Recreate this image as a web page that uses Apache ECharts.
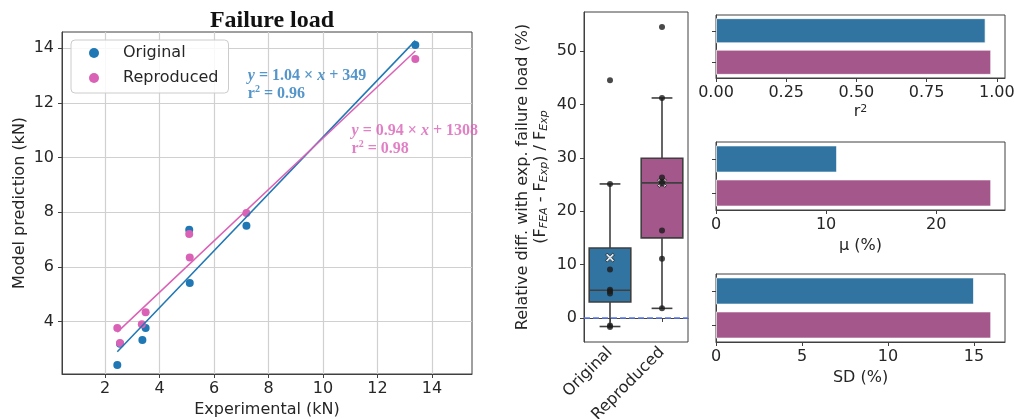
<!DOCTYPE html>
<html><head><meta charset="utf-8">
<script src="https://cdn.jsdelivr.net/npm/echarts@6/dist/echarts.min.js"></script>
<style>html,body{margin:0;padding:0;background:#fff}#c{width:1014px;height:419px}</style>
</head><body><div id="c"></div>
<script>
// ---------------- data ----------------
const categories = ['Original', 'Reproduced'];
// Failure load scatter (kN)
const expOriginal    = [2.45, 2.55, 3.37, 3.49, 5.09, 5.11, 7.19, 13.39];
const predOriginal   = [2.41, 3.19, 3.32, 3.76, 7.36, 5.41, 7.50, 14.11];
const expReproduced  = [2.45, 2.55, 3.35, 3.49, 5.09, 5.11, 7.19, 13.39];
const predReproduced = [3.76, 3.21, 3.90, 4.34, 7.20, 6.34, 7.97, 13.60];
// linear fits (slope, intercept in kN) and r²
const fitSlope = [1.04, 0.94];
const fitIntercept = [0.349, 1.308];
const r2Text = ['0.96', '0.98'];
// relative difference (%) box plot
const diffOriginal   = [44.5, 25.1, 9.1, 5.3, 5.0, 4.6, -1.4, -1.7];
const diffReproduced = [54.5, 41.2, 26.3, 25.5, 25.2, 16.4, 11.1, 1.8];
const whiskerLow  = [-1.6, 1.8];
const boxQ1       = [3.0, 15.0];
const boxMedian   = [5.2, 25.3];
const boxQ3       = [13.1, 29.9];
const whiskerHigh = [25.1, 41.2];
const meanDiff    = [11.3, 25.3];
// summary metrics
const r2Values = [0.96, 0.98];
const muValues = [11.0, 25.0];
const sdValues = [15.0, 16.0];
// tick labels
const scatterXTicks = [2, 4, 6, 8, 10, 12, 14];
const scatterYTicks = [4, 6, 8, 10, 12, 14];
const diffTicks = [0, 10, 20, 30, 40, 50];
const r2Ticks = [0, 0.25, 0.5, 0.75, 1.0];
const muTicks = [0, 10, 20];
const sdTicks = [0, 5, 10, 15];

// ---------------- style ----------------
const FONT = 'DejaVu Sans';
const SERIF = 'Liberation Serif';
const TXT = '#262626';
const SPINE = '#404040';
const BLUE_PT = '#1f77b4';
const PINK_PT = '#d962b6';
const BLUE_TXT = '#2b7cbd';
const BLUE_BOX = '#3274a1';
const PURPLE_BOX = '#a4578b';
const boxColors = [BLUE_BOX, PURPLE_BOX];

const zip = (a, b) => a.map((v, i) => [v, b[i]]);
const fitLine = (k) => {
  const xs = k === 0 ? expOriginal : expReproduced;
  const x0 = Math.min(...xs), x1 = Math.max(...xs);
  return [[x0, fitSlope[k] * x0 + fitIntercept[k]], [x1, fitSlope[k] * x1 + fitIntercept[k]]];
};

const tickLabel = { fontFamily: FONT, fontSize: 16, color: TXT };
function valueAxis(gridIndex, min, max, ticks, extra) {
  return Object.assign({
    type: 'value', gridIndex, min, max,
    axisLine: { show: true, lineStyle: { color: SPINE, width: 1 } },
    axisTick: { show: true, length: 4, customValues: ticks, lineStyle: { color: SPINE } },
    axisLabel: Object.assign({ customValues: ticks, margin: 7 }, tickLabel),
    splitLine: { show: false },
    nameTextStyle: { fontFamily: FONT, fontSize: 16, color: TXT }
  }, extra || {});
}
function catBarAxis(gridIndex) {
  return {
    type: 'category', gridIndex, data: categories, inverse: true,
    axisLine: { show: true, lineStyle: { color: SPINE } },
    axisTick: { show: true, alignWithLabel: true, length: 4, lineStyle: { color: SPINE } },
    axisLabel: { show: false }, splitLine: { show: false }
  };
}
const gridBase = { show: true, borderColor: SPINE, borderWidth: 1, backgroundColor: 'transparent',
  containLabel: false, outerBoundsMode: 'none' };

const boxRows = categories.map((c, i) => [i, whiskerLow[i], boxQ1[i], boxMedian[i], boxQ3[i], whiskerHigh[i]]);
const stripData = [].concat(diffOriginal.map(v => [0, v]), diffReproduced.map(v => [1, v]));

function eqRich(color) {
  return {
    b: { fontFamily: SERIF, fontWeight: 'bold', fontSize: 16, color, lineHeight: 18 },
    i: { fontFamily: SERIF, fontWeight: 'bold', fontStyle: 'italic', fontSize: 16, color, lineHeight: 18 },
    s: { fontFamily: SERIF, fontWeight: 'bold', fontSize: 10, color, lineHeight: 18, verticalAlign: 'top' }
  };
}

const option = {
  animation: false,
  backgroundColor: '#ffffff',
  title: {
    text: 'Failure load', left: 267, top: 4, textAlign: 'center',
    textStyle: { fontFamily: SERIF, fontWeight: 'bold', fontSize: 24, color: '#111' }
  },
  legend: {
    data: ['Original', 'Reproduced'], orient: 'vertical', left: 71, top: 40,
    padding: [4, 10, 6, 18], itemGap: 7, itemWidth: 10, itemHeight: 10,
    icon: 'circle', borderColor: '#cccccc', borderWidth: 1, borderRadius: 4,
    backgroundColor: 'rgba(255,255,255,0.85)',
    textStyle: { fontFamily: FONT, fontSize: 16, color: TXT, lineHeight: 18, padding: [0, 0, 0, 19] }
  },
  grid: [
    Object.assign({ left: 62, top: 32, width: 410, height: 342 }, gridBase),
    Object.assign({ left: 584, top: 12, width: 104, height: 330 }, gridBase),
    Object.assign({ left: 716, top: 15, width: 289, height: 63 }, gridBase),
    Object.assign({ left: 716, top: 142, width: 289, height: 68 }, gridBase),
    Object.assign({ left: 716, top: 274, width: 289, height: 68 }, gridBase)
  ],
  xAxis: [
    valueAxis(0, 0.42, 15.47, scatterXTicks, {
      name: 'Experimental (kN)', nameLocation: 'middle', nameGap: 26,
      splitLine: { show: true, lineStyle: { color: '#d0d0d0', width: 1.2 } }
    }),
    {
      type: 'category', gridIndex: 1, data: categories,
      axisLine: { show: true, lineStyle: { color: SPINE } },
      axisTick: { show: true, alignWithLabel: true, length: 4, lineStyle: { color: SPINE } },
      axisLabel: Object.assign({ rotate: 45, margin: 8, interval: 0 }, tickLabel),
      splitLine: { show: false }
    },
    valueAxis(2, 0, 1.029, r2Ticks, {
      name: 'r{sup|2}', nameLocation: 'middle', nameGap: 26,
      axisLabel: Object.assign({ customValues: r2Ticks, margin: 7, formatter: v => Number(v).toFixed(2) }, tickLabel),
      nameTextStyle: { fontFamily: FONT, fontSize: 16, color: TXT,
        rich: { sup: { fontFamily: FONT, fontSize: 11, color: TXT, verticalAlign: 'top', lineHeight: 14 } } }
    }),
    valueAxis(3, 0, 26.25, muTicks, { name: 'μ (%)', nameLocation: 'middle', nameGap: 28 }),
    valueAxis(4, 0, 16.8, sdTicks, { name: 'SD (%)', nameLocation: 'middle', nameGap: 28 })
  ],
  yAxis: [
    valueAxis(0, 2.08, 14.59, scatterYTicks, {
      name: 'Model prediction (kN)', nameLocation: 'middle', nameGap: 34,
      axisLabel: Object.assign({ customValues: scatterYTicks, margin: 8 }, tickLabel),
      splitLine: { show: true, lineStyle: { color: '#d0d0d0', width: 1.2 } }
    }),
    valueAxis(1, -4.5, 57.3, diffTicks, {
      name: 'Relative diff. with exp. failure load (%)\n(F{sub|FEA} - F{sub|Exp}) / F{sub|Exp}',
      nameLocation: 'middle', nameGap: 34,
      nameTextStyle: { fontFamily: FONT, fontSize: 16, color: TXT, lineHeight: 18, align: 'center',
        rich: { sub: { fontFamily: FONT, fontSize: 11, fontStyle: 'italic', color: TXT, verticalAlign: 'bottom', lineHeight: 10 } } }
    }),
    catBarAxis(2), catBarAxis(3), catBarAxis(4)
  ],
  series: [
    { name: 'Original', type: 'scatter', xAxisIndex: 0, yAxisIndex: 0, data: zip(expOriginal, predOriginal),
      symbolSize: 8, itemStyle: { color: BLUE_PT, opacity: 1 }, z: 4 },
    { name: 'Reproduced', type: 'scatter', xAxisIndex: 0, yAxisIndex: 0, data: zip(expReproduced, predReproduced),
      symbolSize: 8, itemStyle: { color: PINK_PT, opacity: 1 }, z: 5 },
    { name: 'fitO', type: 'line', xAxisIndex: 0, yAxisIndex: 0, data: fitLine(0), showSymbol: false,
      lineStyle: { color: BLUE_PT, width: 1.5 }, itemStyle: { color: BLUE_PT }, z: 6 },
    { name: 'fitR', type: 'line', xAxisIndex: 0, yAxisIndex: 0, data: fitLine(1), showSymbol: false,
      lineStyle: { color: PINK_PT, width: 1.5 }, itemStyle: { color: PINK_PT }, z: 6 },
    { name: 'eqO', type: 'scatter', xAxisIndex: 0, yAxisIndex: 0, data: [[7.24, 12.67]], symbolSize: 0, silent: true, z: 7,
      label: { show: true, position: [0, 0], align: 'left', verticalAlign: 'middle',
        formatter: '{i|y}{b| = ' + fitSlope[0].toFixed(2) + ' × }{i|x}{b| + 349}\n{b|r}{s|2}{b| = ' + r2Text[0] + '}',
        rich: eqRich(BLUE_TXT) } },
    { name: 'eqR', type: 'scatter', xAxisIndex: 0, yAxisIndex: 0, data: [[11.05, 10.66]], symbolSize: 0, silent: true, z: 7,
      label: { show: true, position: [0, 0], align: 'left', verticalAlign: 'middle',
        formatter: '{i|y}{b| = ' + fitSlope[1].toFixed(2) + ' × }{i|x}{b| + 1308}\n{b|r}{s|2}{b| = ' + r2Text[1] + '}',
        rich: eqRich(PINK_PT) } },
    { name: 'box', type: 'custom', xAxisIndex: 1, yAxisIndex: 1, data: boxRows, z: 2,
      renderItem: function (params, api) {
        const i = api.value(0);
        const pLow = api.coord([i, api.value(1)]);
        const pQ1 = api.coord([i, api.value(2)]);
        const pMed = api.coord([i, api.value(3)]);
        const pQ3 = api.coord([i, api.value(4)]);
        const pHigh = api.coord([i, api.value(5)]);
        const bw = api.size([1, 0])[0] * 0.8;
        const cx = pMed[0];
        const ls = { stroke: '#3f3f3f', lineWidth: 1.6 };
        return { type: 'group', children: [
          { type: 'line', shape: { x1: cx, y1: pQ3[1], x2: cx, y2: pHigh[1] }, style: ls },
          { type: 'line', shape: { x1: cx, y1: pQ1[1], x2: cx, y2: pLow[1] }, style: ls },
          { type: 'line', shape: { x1: cx - bw / 4, y1: pHigh[1], x2: cx + bw / 4, y2: pHigh[1] }, style: ls },
          { type: 'line', shape: { x1: cx - bw / 4, y1: pLow[1], x2: cx + bw / 4, y2: pLow[1] }, style: ls },
          { type: 'rect', shape: { x: cx - bw / 2, y: pQ3[1], width: bw, height: pQ1[1] - pQ3[1] },
            style: { fill: boxColors[i], stroke: '#3f3f3f', lineWidth: 1.6 } },
          { type: 'line', shape: { x1: cx - bw / 2, y1: pMed[1], x2: cx + bw / 2, y2: pMed[1] }, style: ls }
        ] };
      } },
    { name: 'mean', type: 'scatter', xAxisIndex: 1, yAxisIndex: 1, data: meanDiff.map((v, i) => [i, v]),
      symbol: 'path://M2,0 L5,3 L8,0 L10,2 L7,5 L10,8 L8,10 L5,7 L2,10 L0,8 L3,5 L0,2 Z', symbolSize: 9,
      itemStyle: { color: '#ffffff', borderColor: '#1c1c1c', borderWidth: 1 }, z: 3 },
    { name: 'points', type: 'scatter', xAxisIndex: 1, yAxisIndex: 1, data: stripData, symbolSize: 6,
      itemStyle: { color: '#1c1c1c' }, z: 4,
      markLine: { silent: true, symbol: 'none', label: { show: false },
        lineStyle: { color: '#5a78f2', type: [6, 3], width: 1.5 }, data: [{ yAxis: 0 }] } },
    { name: 'r2bar', type: 'bar', xAxisIndex: 2, yAxisIndex: 2, barCategoryGap: '20%',
      data: r2Values.map((v, i) => ({ value: v, itemStyle: { color: boxColors[i] } })),
      itemStyle: { borderColor: 'rgba(255,255,255,0.7)', borderWidth: 1 } },
    { name: 'mubar', type: 'bar', xAxisIndex: 3, yAxisIndex: 3, barCategoryGap: '20%',
      data: muValues.map((v, i) => ({ value: v, itemStyle: { color: boxColors[i] } })),
      itemStyle: { borderColor: 'rgba(255,255,255,0.7)', borderWidth: 1 } },
    { name: 'sdbar', type: 'bar', xAxisIndex: 4, yAxisIndex: 4, barCategoryGap: '20%',
      data: sdValues.map((v, i) => ({ value: v, itemStyle: { color: boxColors[i] } })),
      itemStyle: { borderColor: 'rgba(255,255,255,0.7)', borderWidth: 1 } }
  ]
};
const chart = echarts.init(document.getElementById('c'));
chart.setOption(option);
</script></body></html>
